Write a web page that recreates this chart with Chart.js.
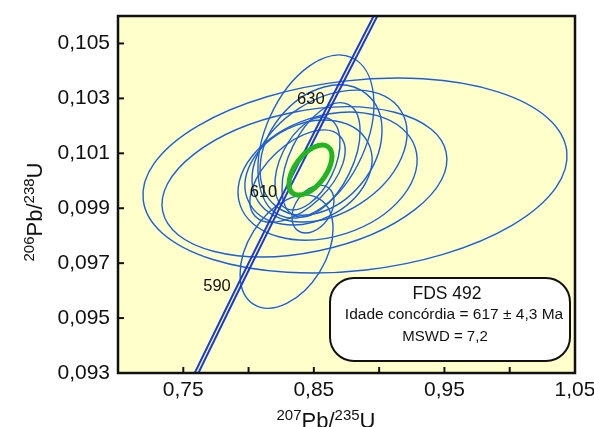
<!DOCTYPE html>
<html>
<head>
<meta charset="utf-8">
<script src="https://cdn.jsdelivr.net/npm/chart.js@4.4.1/dist/chart.umd.min.js"></script>
<style>
  html, body { margin: 0; padding: 0; background: #fff; }
  canvas { display: block; }
</style>
</head>
<body>
<canvas id="concordia" width="594" height="427"></canvas>
<script>
// axis ticks
const xTicks = [0.70, 0.75, 0.80, 0.85, 0.90, 0.95, 1.00, 1.05];
const xLabelled = [0.75, 0.85, 0.95, 1.05];
const yTicks = [0.093, 0.095, 0.097, 0.099, 0.101, 0.103, 0.105];

// concordia (two lines of the decay constant band)
const concAges = [570, 590, 610, 630, 650];
const concX = [0.7531, 0.7879, 0.8235, 0.8598, 0.8968];
const concY = [0.09245, 0.09584, 0.09925, 0.10266, 0.10609];
const concX2 = [0.7559, 0.7907, 0.8263, 0.8626, 0.8996];
const agesShown = [590, 610, 630];

// spot ellipses: centre, half widths, correlation
const ellX   = [0.8815, 0.8428, 0.8605, 0.8516, 0.8620, 0.8555, 0.8555, 0.8451, 0.8291, 0.8493, 0.8459, 0.8375];
const ellY   = [0.10019, 0.09996, 0.10017, 0.10161, 0.10090, 0.10112, 0.10076, 0.10063, 0.09742, 0.09897, 0.10030, 0.10017];
const ellSx  = [0.1624, 0.1091, 0.0686, 0.0444, 0.0594, 0.0467, 0.0299, 0.0249, 0.0356, 0.0161, 0.0486, 0.0364];
const ellSy  = [0.00355, 0.00273, 0.00233, 0.00297, 0.00240, 0.00237, 0.00208, 0.00169, 0.00206, 0.00087, 0.00191, 0.00168];
const ellRho = [0.20, 0.30, 0.25, 0.40, 0.35, 0.30, 0.50, 0.45, 0.40, 0.35, 0.25, 0.55];

// concordia age ellipse
const ageX = 0.8474, ageY = 0.10039, ageSx = 0.01647, ageSy = 0.00091, ageRho = 0.55;

const sampleName = 'FDS 492';
const ageText = 'Idade concórdia = 617 ± 4,3 Ma';
const mswdText = 'MSWD = 7,2';

const FONT = "'Liberation Sans', Arial, sans-serif";
const comma = (v, d) => v.toFixed(d).replace('.', ',');

function drawEllipse(ctx, chart, x, y, sx, sy, rho) {
  const xs = chart.scales.x, ys = chart.scales.y;
  const cx = xs.getPixelForValue(x), cy = ys.getPixelForValue(y);
  const a = xs.getPixelForValue(x + sx) - cx;
  const b = cy - ys.getPixelForValue(y + sy);
  const vxx = a * a, vyy = b * b, vxy = -rho * a * b;
  const mid = (vxx + vyy) / 2;
  const d = Math.sqrt(((vxx - vyy) / 2) ** 2 + vxy * vxy);
  const r1 = Math.sqrt(mid + d), r2 = Math.sqrt(Math.max(mid - d, 0));
  const ang = 0.5 * Math.atan2(2 * vxy, vxx - vyy);
  ctx.beginPath();
  ctx.ellipse(cx, cy, r1, r2, ang, 0, 2 * Math.PI);
  ctx.stroke();
}

// text with superscripts: parts = [[text, isSup], ...]
function supText(ctx, parts, x, y, big, small) {
  let w = 0;
  parts.forEach(p => { ctx.font = (p[1] ? small : big) + 'px ' + FONT; w += ctx.measureText(p[0]).width; });
  let cx = x - w / 2;
  ctx.textAlign = 'left';
  ctx.textBaseline = 'alphabetic';
  parts.forEach(p => {
    ctx.font = (p[1] ? small : big) + 'px ' + FONT;
    ctx.fillText(p[0], cx, p[1] ? y - 8 : y);
    cx += ctx.measureText(p[0]).width;
  });
}

const noPad = s => { s.paddingTop = s.paddingBottom = s.paddingLeft = s.paddingRight = 0; };

const diagram = {
  id: 'diagram',
  beforeDraw(chart) {
    const { ctx, chartArea: a } = chart;
    ctx.save();
    ctx.fillStyle = '#ffffcc';
    ctx.fillRect(a.left, a.top, a.right - a.left, a.bottom - a.top);
    ctx.restore();
  },
  beforeDatasetsDraw(chart) {
    const { ctx, chartArea: a } = chart;
    ctx.save();
    ctx.beginPath();
    ctx.rect(a.left, a.top, a.right - a.left, a.bottom - a.top);
    ctx.clip();
    ctx.strokeStyle = '#1f5fd6';
    ctx.lineWidth = 1.4;
    ellX.forEach((x, i) => drawEllipse(ctx, chart, x, ellY[i], ellSx[i], ellSy[i], ellRho[i]));
    ctx.restore();
  },
  afterDatasetsDraw(chart) {
    const { ctx, chartArea: a, scales: { x: xs, y: ys } } = chart;
    ctx.save();
    // age ellipse
    ctx.strokeStyle = '#22b422';
    ctx.lineWidth = 5;
    drawEllipse(ctx, chart, ageX, ageY, ageSx, ageSy, ageRho);

    // age labels on the concordia
    ctx.fillStyle = '#111';
    ctx.font = '16.5px ' + FONT;
    ctx.textAlign = 'right';
    ctx.textBaseline = 'middle';
    agesShown.forEach(age => {
      const i = concAges.indexOf(age);
      ctx.fillText(String(age), xs.getPixelForValue(concX[i]) - 2, ys.getPixelForValue(concY[i]) - 8.5);
    });

    // inner tick marks
    ctx.strokeStyle = '#111';
    ctx.lineWidth = 2;
    xTicks.forEach(v => {
      const p = xs.getPixelForValue(v);
      ctx.beginPath(); ctx.moveTo(p, a.bottom); ctx.lineTo(p, a.bottom - 6); ctx.stroke();
    });
    yTicks.forEach(v => {
      const p = ys.getPixelForValue(v);
      ctx.beginPath(); ctx.moveTo(a.left, p); ctx.lineTo(a.left + 6, p); ctx.stroke();
    });

    // frame
    ctx.lineWidth = 2.5;
    ctx.strokeRect(a.left, a.top, a.right - a.left, a.bottom - a.top);

    // result box
    const bx = a.right - 245, by = a.bottom - 95, bw = 240, bh = 83;
    ctx.beginPath();
    ctx.roundRect(bx, by, bw, bh, 24);
    ctx.fillStyle = '#fff';
    ctx.fill();
    ctx.lineWidth = 2;
    ctx.strokeStyle = '#111';
    ctx.stroke();
    ctx.fillStyle = '#111';
    ctx.textAlign = 'center';
    ctx.textBaseline = 'middle';
    ctx.font = '17.5px ' + FONT;
    ctx.fillText(sampleName, bx + 117, by + 16);
    ctx.font = '15.5px ' + FONT;
    ctx.fillText(ageText, bx + 124, by + 37);
    ctx.font = '15px ' + FONT;
    ctx.fillText(mswdText, bx + 115, by + 59);

    // axis titles
    supText(ctx, [['207', true], ['Pb/', false], ['235', true], ['U', false]], 326, 428, 22, 15);
    ctx.translate(42, 212);
    ctx.rotate(-Math.PI / 2);
    supText(ctx, [['206', true], ['Pb/', false], ['238', true], ['U', false]], 0, 0, 22, 15);
    ctx.restore();
  }
};

new Chart(document.getElementById('concordia'), {
  type: 'scatter',
  data: {
    datasets: [
      {
        data: concX.map((x, i) => ({ x, y: concY[i] })),
        showLine: true, borderColor: '#1a3ad0', borderWidth: 2, pointRadius: 0
      },
      {
        data: concX2.map((x, i) => ({ x, y: concY[i] })),
        showLine: true, borderColor: '#1a3ad0', borderWidth: 2, pointRadius: 0
      }
    ]
  },
  options: {
    responsive: false,
    animation: false,
    events: [],
    layout: { padding: { top: 16, right: 19, left: 0, bottom: 0 } },
    plugins: { legend: { display: false }, tooltip: { enabled: false } },
    scales: {
      x: {
        type: 'linear', min: 0.70, max: 1.05,
        border: { display: false },
        grid: { display: false, drawTicks: false },
        afterBuildTicks: s => { s.ticks = xLabelled.map(v => ({ value: v })); },
        afterFit: s => { s.height = 54; noPad(s); },
        ticks: {
          padding: 5, color: '#111', maxRotation: 0, autoSkip: false,
          font: { family: FONT, size: 21 },
          callback: v => comma(v, 2)
        }
      },
      y: {
        type: 'linear', min: 0.093, max: 0.106,
        border: { display: false },
        grid: { display: false, drawTicks: false },
        afterBuildTicks: s => { s.ticks = yTicks.map(v => ({ value: v })); },
        afterFit: s => { s.width = 118; noPad(s); },
        ticks: {
          padding: 8, color: '#111', autoSkip: false,
          font: { family: FONT, size: 21 },
          callback: v => comma(v, 3)
        }
      }
    }
  },
  plugins: [diagram]
});
</script>
</body>
</html>
